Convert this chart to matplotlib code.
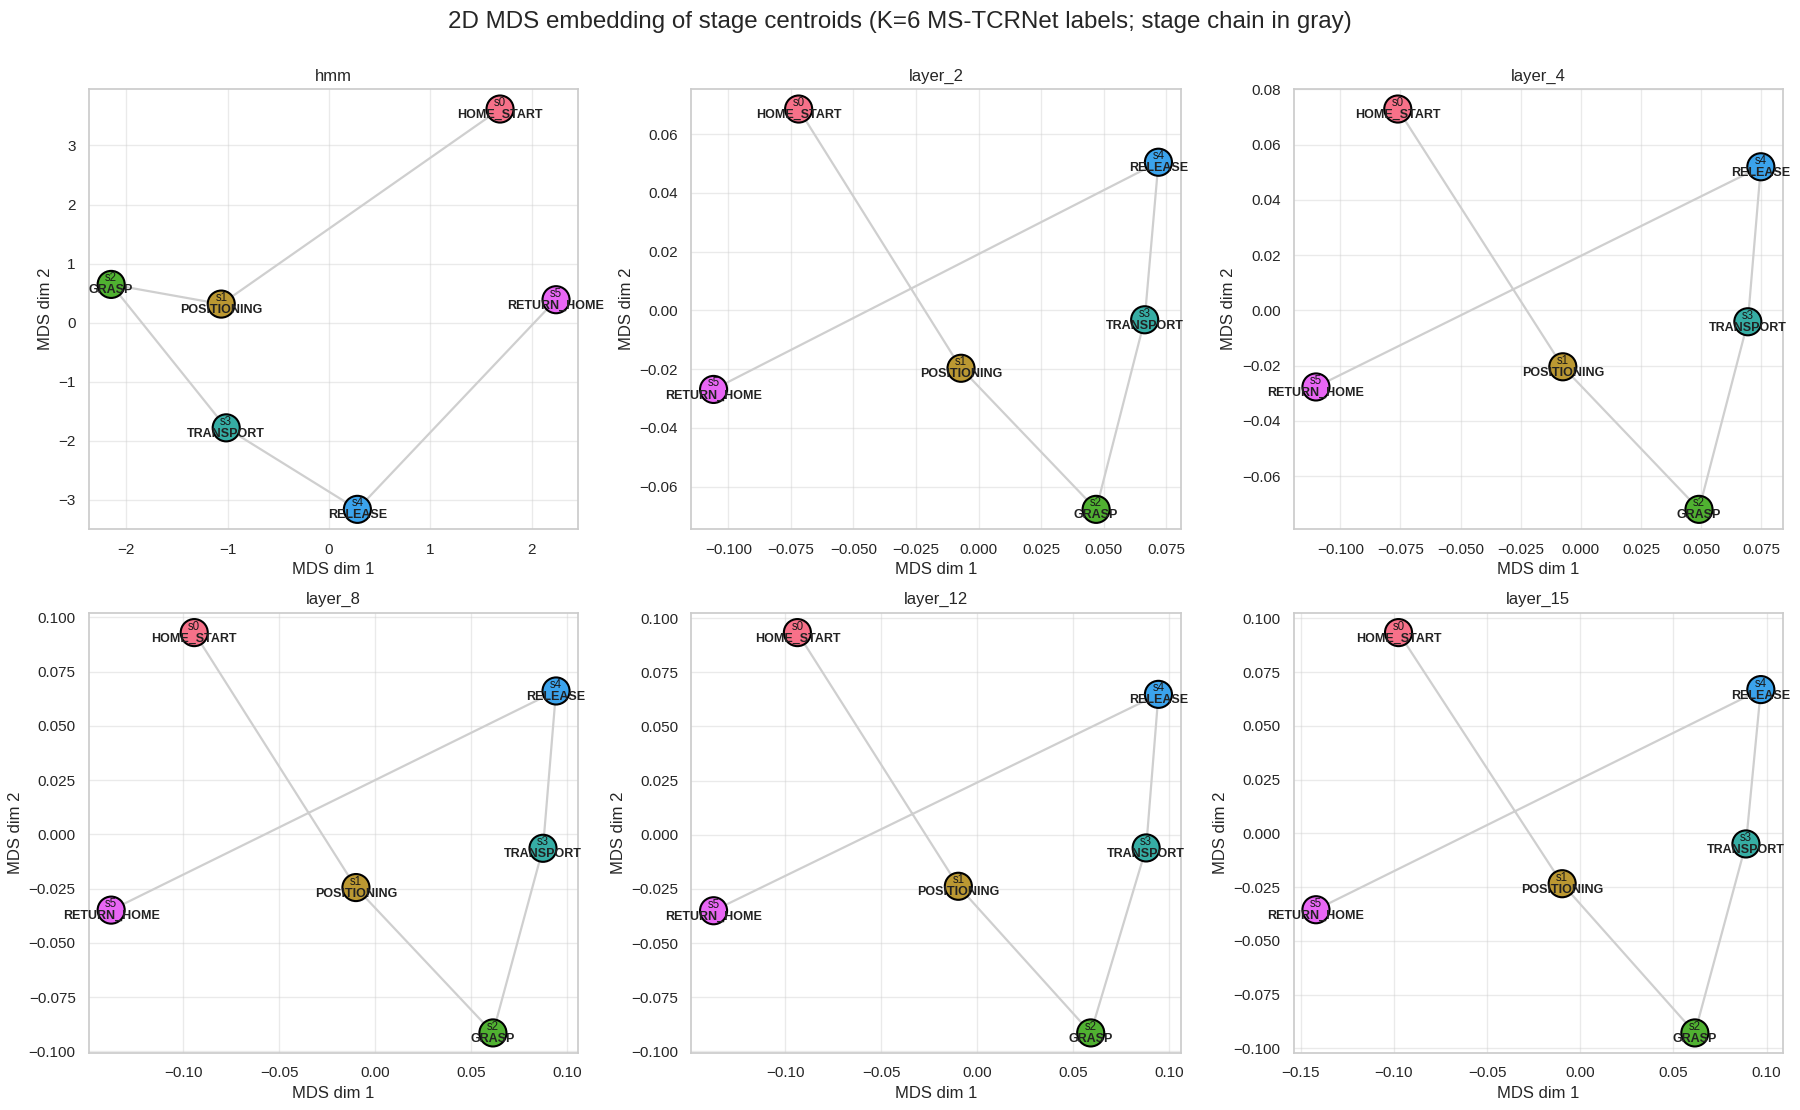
import matplotlib

matplotlib.use("Agg")
import matplotlib.pyplot as plt
import seaborn as sns


STAGES = ["HOME_START", "POSITIONING", "GRASP", "TRANSPORT", "RELEASE", "RETURN_HOME"]
PANELS = ["hmm", "layer_2", "layer_4", "layer_8", "layer_12", "layer_15"]

# MDS coordinates, one pair of lists per panel
HMM_X = [1.686, -1.062, -2.147, -1.013, 0.280, 2.238]
HMM_Y = [3.617, 0.315, 0.648, -1.780, -3.160, 0.389]

L2_X = [-0.0719, -0.0070, 0.0470, 0.0664, 0.0719, -0.1059]
L2_Y = [0.0685, -0.0197, -0.0677, -0.0032, 0.0504, -0.0269]

L4_X = [-0.0761, -0.0075, 0.0491, 0.0694, 0.0748, -0.1101]
L4_Y = [0.0729, -0.0204, -0.0720, -0.0041, 0.0520, -0.0277]

L8_X = [-0.0943, -0.0100, 0.0614, 0.0875, 0.0943, -0.1376]
L8_Y = [0.0930, -0.0245, -0.0915, -0.0064, 0.0661, -0.0349]

L12_X = [-0.0937, -0.0098, 0.0592, 0.0881, 0.0945, -0.1374]
L12_Y = [0.0933, -0.0238, -0.0915, -0.0061, 0.0648, -0.0351]

L15_X = [-0.0975, -0.0097, 0.0615, 0.0889, 0.0969, -0.1418]
L15_Y = [0.0934, -0.0234, -0.0928, -0.0049, 0.0669, -0.0355]

COORDS = [(HMM_X, HMM_Y), (L2_X, L2_Y), (L4_X, L4_Y), (L8_X, L8_Y), (L12_X, L12_Y), (L15_X, L15_Y)]


def draw_panel(ax, name, xs, ys, colors):
    ax.plot(xs, ys, color="#cfcfcf", lw=1.6, zorder=1)
    ax.scatter(xs, ys, s=380, c=colors, edgecolors="black", linewidths=1.5, zorder=3)
    for k, (x, y) in enumerate(zip(xs, ys)):
        ax.text(x, y, f"s{k}", fontsize=8.3, ha="center", va="bottom", color="#1a1a1a", zorder=4)
        ax.text(x, y, STAGES[k], fontsize=9, fontweight="bold", ha="center", va="top",
                color="#222222", zorder=4)
    ax.set_title(name)
    ax.set_xlabel("MDS dim 1")
    ax.set_ylabel("MDS dim 2")
    ax.grid(True, alpha=0.4)


def main():
    sns.set_theme(style="whitegrid", context="notebook")
    plt.rcParams["font.family"] = ["Liberation Sans", "DejaVu Sans"]

    colors = sns.color_palette("husl", len(STAGES))

    fig, axes = plt.subplots(2, 3, figsize=(18, 11.1), dpi=100)
    fig.subplots_adjust(left=0.0494, right=0.9906, top=0.9198, bottom=0.0514, wspace=0.231, hspace=0.189)

    for ax, name, (xs, ys) in zip(axes.flat, PANELS, COORDS):
        draw_panel(ax, name, xs, ys, colors)

    fig.suptitle("2D MDS embedding of stage centroids (K=6 MS-TCRNet labels; stage chain in gray)",
                 fontsize=17.4, y=0.990)
    fig.savefig("out.png", dpi=100, facecolor="white")
    plt.close(fig)


if __name__ == "__main__":
    main()
